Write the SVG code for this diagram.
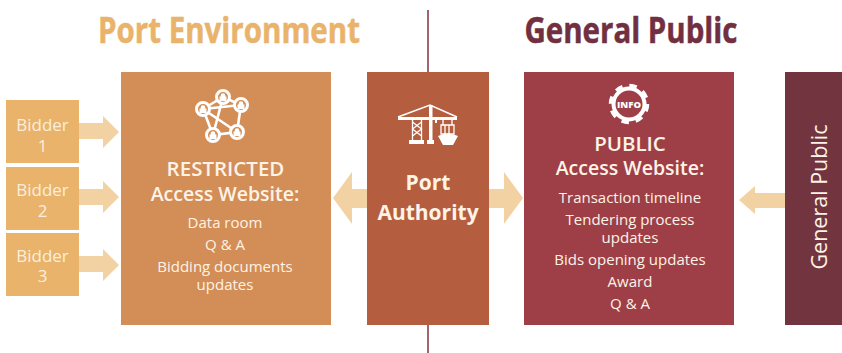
<svg xmlns="http://www.w3.org/2000/svg" width="842" height="353" viewBox="0 0 842 353">
<style>
text{font-family:"Open Sans","Noto Sans","Liberation Sans",sans-serif;text-anchor:middle;fill:#fdf3e6}
.t{font-size:35px;font-weight:700;stroke-width:0.5px}
.h{font-size:19.5px;font-weight:600}
.h2{font-size:20.5px;font-weight:600}
.p{font-size:21px;font-weight:700}
.b{font-size:15px;font-weight:400}
.bid{font-size:17px;fill:#fbeedd}
.arr{fill:#f2d2a2}
.net{fill:none;stroke:#fff;stroke-width:2.6}
.node{fill:#d38d56;stroke:#fff;stroke-width:3}
.lock{fill:#fff}
.w{fill:#fff}
.ws{fill:none;stroke:#fff;stroke-width:1.3}
</style>
<defs>
<g id="lk"><path class="lock" d="M-3.500 -0.500V4H3.500V-0.500H2.300V-1.500A2.300 2.300 0 0 0 -2.300 -1.500V-0.500Z"/></g>
</defs>
<rect width="842" height="353" fill="#fff"/>
<g id="divider"><path d="M428 10V72M428 325V353" stroke="#8d3d4a" stroke-width="1.6" fill="none"/></g>
<text x="229" y="43" class="t" style="fill:#e9b36b;stroke:#e9b36b" textLength="262" lengthAdjust="spacingAndGlyphs">Port Environment</text>
<text x="631" y="43" class="t" style="fill:#712f3f;stroke:#712f3f" textLength="213" lengthAdjust="spacingAndGlyphs">General Public</text>
<g id="connectors">
<path class="arr" d="M79 123H103V116L119 132L103 148V139H79Z"/>
<path class="arr" d="M79 189H103V181L119 197L103 213V205H79Z"/>
<path class="arr" d="M79 256H103V249L119 265L103 281V272H79Z"/>
<path class="arr" d="M367 189H352V172L333 198L352 224V208H367Z"/>
<path class="arr" d="M489 189H504V172L523 198L504 224V208H489Z"/>
<path class="arr" d="M785 193H755V186L739 200L755 214V208H785Z"/>
</g>
<g id="bidder1"><rect x="6" y="100" width="73" height="63" fill="#e9b36b"/><text class="bid" x="42.500" y="131">Bidder</text><text class="bid" x="42.500" y="152">1</text></g>
<g id="bidder2"><rect x="6" y="167" width="73" height="63" fill="#e9b36b"/><text class="bid" x="42.500" y="196">Bidder</text><text class="bid" x="42.500" y="217">2</text></g>
<g id="bidder3"><rect x="6" y="233" width="73" height="63" fill="#e9b36b"/><text class="bid" x="42.500" y="262">Bidder</text><text class="bid" x="42.500" y="282">3</text></g>
<g id="restricted"><rect x="121" y="72" width="210" height="253" fill="#d38d56"/>
<path class="net" d="M203 109L223 97L241 105L237 132L213 135ZM203 109L241 105M223 97L213 135M203 109L237 132"/>
<circle class="node" cx="203" cy="109" r="6.500"/><circle class="node" cx="223" cy="97" r="6.500"/><circle class="node" cx="241" cy="105" r="6.500"/><circle class="node" cx="237" cy="132" r="6.500"/><circle class="node" cx="213" cy="135" r="6.500"/>
<use href="#lk" x="203" y="109"/><use href="#lk" x="223" y="97"/><use href="#lk" x="241" y="105"/><use href="#lk" x="237" y="132"/><use href="#lk" x="213" y="135"/>
<text class="h2" x="225.500" y="176">RESTRICTED</text><text class="h" x="225" y="201">Access Website:</text>
<text class="b" x="225" y="228">Data room</text><text class="b" x="225" y="250">Q &amp; A</text><text class="b" x="225" y="272">Bidding documents</text><text class="b" x="225" y="290">updates</text></g>
<g id="authority"><rect x="367" y="72" width="122" height="253" fill="#b55e3f"/>
<rect class="w" x="398" y="117" width="59" height="3"/>
<path class="ws" style="stroke-width:1.5" d="M398 117L430 105L457 117"/>
<rect class="w" x="429" y="105" width="3.500" height="36"/>
<path class="ws" d="M412.500 120V140M421.500 120V140M412.500 122L421.500 129L412.500 136M421.500 122L412.500 129L421.500 136"/>
<rect class="w" x="409" y="140" width="15" height="4"/><rect class="w" x="427" y="140" width="7" height="4"/>
<rect class="w" x="435" y="120" width="2" height="3"/>
<path class="ws" d="M443 119V125M452 119V125"/>
<path class="ws" d="M441 125H454V134H441ZM445 125V134M449 125V134"/>
<path class="w" d="M438 136Q448 131 458 136L453 145H443Z"/>
<text class="p" x="428" y="190">Port</text><text class="p" x="428" y="220">Authority</text></g>
<g id="public"><rect x="524" y="72" width="210" height="253" fill="#9e3f47"/>
<circle cx="629" cy="104" r="15.500" fill="#9e3f47" stroke="#fff" stroke-width="4"/><circle cx="629" cy="104" r="18.500" fill="none" stroke="#fff" stroke-width="3.500" stroke-dasharray="7.500 7"/>
<text x="629" y="107.500" style="font-size:9.500px;font-weight:800;fill:#fff">INFO</text>
<text class="h2" x="630" y="151">PUBLIC</text><text class="h" x="630" y="175">Access Website:</text>
<text class="b" x="630" y="203">Transaction timeline</text><text class="b" x="630" y="225">Tendering process</text><text class="b" x="630" y="243">updates</text><text class="b" x="630" y="265">Bids opening updates</text><text class="b" x="630" y="287">Award</text><text class="b" x="630" y="309">Q &amp; A</text></g>
<g id="generalpublic"><rect x="785" y="72" width="57" height="253" fill="#723540"/><text transform="translate(827 197) rotate(-90)" style="font-size:21.500px">General Public</text></g>
</svg>
